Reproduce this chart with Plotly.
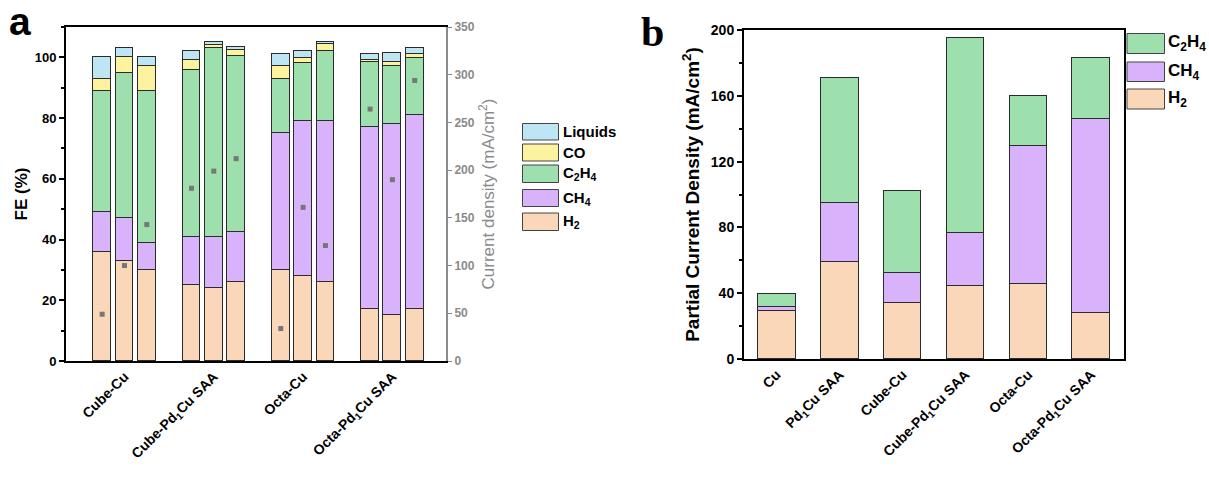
import plotly.graph_objects as go

# ---------------- data: panel a (Faradaic efficiency, %) ----------------
groups_a = ["Cube-Cu", "Cube-Pd<sub>1</sub>Cu SAA", "Octa-Cu", "Octa-Pd<sub>1</sub>Cu SAA"]
replicates = 3
fe_h2 = [36, 33, 30, 25, 24, 26, 30, 28, 26, 17, 15, 17]
fe_ch4 = [13, 14, 9, 16, 17, 16.5, 45, 51, 53, 60, 63, 64]
fe_c2h4 = [40, 48, 50, 55, 62, 58, 18, 19, 23, 21.5, 19, 18.8]
fe_co = [4, 5, 8, 3, 1, 2, 4, 1.8, 2.3, 0.7, 1.4, 1.3]
fe_liq = [7, 3, 3, 3, 1, 1, 4, 2.2, 0.7, 1.9, 3, 2]
current_density = [49, 100, 143, 181, 199, 212, 34, 161, 121, 264, 190, 294]

# ---------------- data: panel b (partial current density) ----------------
cats_b = ["Cu", "Pd<sub>1</sub>Cu SAA", "Cube-Cu", "Cube-Pd<sub>1</sub>Cu SAA", "Octa-Cu", "Octa-Pd<sub>1</sub>Cu SAA"]
j_h2 = [29, 59, 34, 44.6, 45.8, 27.8]
j_ch4 = [2.4, 36, 18, 31.8, 83.9, 117.9]
j_c2h4 = [8.4, 76, 50, 118.5, 30, 37.1]

# ---------------- styles ----------------
C_H2 = "#FAD7B8"
C_CH4 = "#D8B2FB"
C_C2H4 = "#9DE0AD"
C_CO = "#FDF29E"
C_LIQ = "#BEE5F4"
EDGE = "#2b2b2b"
GRAY = "#8a8a8a"
FONT = "Arial, Liberation Sans, sans-serif"
W, H = 1209, 479

# x positions for panel a: group index + replicate offset
xa = [g + (r - (replicates - 1) / 2) * 0.25 for g in range(len(groups_a)) for r in range(replicates)]
xb = list(range(len(cats_b)))

fig = go.Figure()

for vals, col, name in [(fe_h2, C_H2, "H2"), (fe_ch4, C_CH4, "CH4"), (fe_c2h4, C_C2H4, "C2H4"),
                        (fe_co, C_CO, "CO"), (fe_liq, C_LIQ, "Liquids")]:
    fig.add_trace(go.Bar(x=xa, y=vals, width=0.2, marker=dict(color=col, line=dict(color=EDGE, width=1)),
                         xaxis="x", yaxis="y", showlegend=False, name=name))

fig.add_trace(go.Scatter(x=xa, y=current_density, mode="markers",
                         marker=dict(symbol="square", size=5, color="#777777"),
                         xaxis="x", yaxis="y2", showlegend=False))

for vals, col, name in [(j_h2, C_H2, "H2"), (j_ch4, C_CH4, "CH4"), (j_c2h4, C_C2H4, "C2H4")]:
    fig.add_trace(go.Bar(x=xb, y=vals, width=0.6, marker=dict(color=col, line=dict(color=EDGE, width=1)),
                         xaxis="x2", yaxis="y3", showlegend=False, name=name))


def px(x):
    return x / W


def py(y):
    return 1 - y / H


shapes = []
annotations = []

# custom legend panel a
leg_a = [("Liquids", C_LIQ, 123.5, 140), ("CO", C_CO, 144, 161),
         ("C<sub>2</sub>H<sub>4</sub>", C_C2H4, 165, 182.5),
         ("CH<sub>4</sub>", C_CH4, 189.5, 206.5), ("H<sub>2</sub>", C_H2, 213, 230.5)]
for txt, col, y0, y1 in leg_a:
    shapes.append(dict(type="rect", xref="paper", yref="paper", x0=px(522.5), x1=px(558.5),
                       y0=py(y1), y1=py(y0), fillcolor=col, line=dict(color="#444", width=1)))
    annotations.append(dict(xref="paper", yref="paper", x=px(561), y=py((y0 + y1) / 2), text=txt,
                            showarrow=False, xanchor="left", yanchor="middle",
                            font=dict(family=FONT, size=15, color="black", weight="bold")))

# custom legend panel b
leg_b = [("C<sub>2</sub>H<sub>4</sub>", C_C2H4, 33.5, 53.5), ("CH<sub>4</sub>", C_CH4, 62, 81.5),
         ("H<sub>2</sub>", C_H2, 89, 109)]
for txt, col, y0, y1 in leg_b:
    shapes.append(dict(type="rect", xref="paper", yref="paper", x0=px(1127), x1=px(1164.5),
                       y0=py(y1), y1=py(y0), fillcolor=col, line=dict(color="#444", width=1)))
    annotations.append(dict(xref="paper", yref="paper", x=px(1166), y=py((y0 + y1) / 2), text=txt,
                            showarrow=False, xanchor="left", yanchor="middle",
                            font=dict(family=FONT, size=17, color="black", weight="bold")))

annotations.append(dict(xref="paper", yref="paper", x=px(20), y=py(22), text="a", showarrow=False,
                        xanchor="center", yanchor="middle",
                        font=dict(family=FONT, size=39, color="black", weight="bold")))
annotations.append(dict(xref="paper", yref="paper", x=px(652), y=py(32), text="b", showarrow=False,
                        xanchor="center", yanchor="middle",
                        font=dict(family="Liberation Serif, Times New Roman, serif", size=42,
                                  color="black", weight="bold")))

tickf_a = dict(family=FONT, size=13, color="black", weight="bold")
xtickf = dict(family=FONT, size=14, color="black", weight="bold")

fig.update_layout(
    width=W, height=H, margin=dict(l=0, r=0, t=0, b=0, autoexpand=False),
    plot_bgcolor="white", paper_bgcolor="white", barmode="stack", bargap=0,
    font=dict(family=FONT),
    shapes=shapes, annotations=annotations,
    xaxis=dict(domain=[px(66), px(446)], anchor="y", range=[-0.655, 3.6], automargin=False,
               tickmode="array", tickvals=list(range(len(groups_a))), ticktext=groups_a,
               tickangle=-45, tickfont=xtickf, showline=True, linecolor="black", linewidth=2,
               mirror=True, ticks="", showgrid=False, zeroline=False),
    yaxis=dict(domain=[py(361), py(27)], anchor="x", range=[0, 110], dtick=20, automargin=False,
               showline=True, linecolor="black", linewidth=2, ticks="outside", ticklen=5,
               tickwidth=1.5, tickcolor="black", tickfont=tickf_a,
               minor=dict(ticks="outside", ticklen=3, dtick=10, tickcolor="black", tickwidth=1.5),
               showgrid=False, zeroline=False,
               title=dict(text="FE (%)", font=dict(family=FONT, size=17, color="black", weight="bold"),
                          standoff=3)),
    yaxis2=dict(overlaying="y", anchor="x", side="right", range=[0, 350], dtick=50, automargin=False,
                showline=True, linecolor=GRAY, linewidth=2, ticks="outside", ticklen=4,
                tickcolor=GRAY, tickfont=dict(family=FONT, size=12, color=GRAY, weight="bold"),
                showgrid=False, zeroline=False,
                title=dict(text="Current density (mA/cm<sup>2</sup>)",
                           font=dict(family=FONT, size=17, color=GRAY), standoff=8)),
    xaxis2=dict(domain=[px(744), px(1124)], anchor="y3", range=[-0.52, 5.52], automargin=False,
                tickmode="array", tickvals=xb, ticktext=cats_b, tickangle=-45, tickfont=xtickf,
                showline=True, linecolor="black", linewidth=2, mirror=True, ticks="",
                showgrid=False, zeroline=False),
    yaxis3=dict(domain=[py(359), py(30)], anchor="x2", range=[0, 200], dtick=40, automargin=False,
                showline=True, linecolor="black", linewidth=2, mirror=True, ticks="outside",
                ticklen=5, tickwidth=1.5, tickcolor="black",
                tickfont=dict(family=FONT, size=14, color="black", weight="bold"),
                minor=dict(ticks="outside", ticklen=3, dtick=20, tickcolor="black", tickwidth=1.5),
                showgrid=False, zeroline=False,
                title=dict(text="Partial Current Density (mA/cm<sup>2</sup>)",
                           font=dict(family=FONT, size=19, color="black", weight="bold"), standoff=6)),
)

fig.write_html("out.html")
